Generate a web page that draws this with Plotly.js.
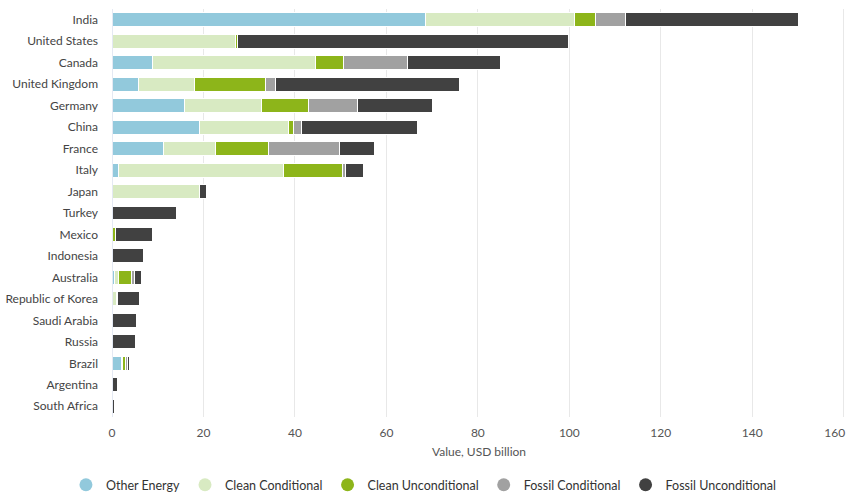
<!DOCTYPE html>
<html>
<head>
<meta charset="utf-8">
<script src="https://cdn.plot.ly/plotly-3.0.1.min.js"></script>
<style>html,body{margin:0;padding:0;background:#fff;}#chart{width:846px;height:492px;}</style>
</head>
<body>
<div id="chart"></div>
<script>
const countries = ["India","United States","Canada","United Kingdom","Germany","China","France","Italy","Japan","Turkey","Mexico","Indonesia","Australia","Republic of Korea","Saudi Arabia","Russia","Brazil","Argentina","South Africa"];
const otherEnergy        = [68.6, 0,    8.8, 5.8, 15.9, 19.1, 11.3, 1.5, 0,    0,    0,   0,   0.45, 0,   0,   0,   2.1, 0,   0];
const cleanConditional   = [32.6, 26.9, 35.6, 12.3, 16.8, 19.4, 11.3, 35.9, 19.1, 0,   0,   0,   1.0, 0.9, 0,   0,   0.3, 0,   0];
const cleanUnconditional = [4.6,  0.5,  6.3, 15.5, 10.2, 1.1, 11.7, 13.1, 0,    0,    0.8, 0,   2.8, 0.3, 0,   0,   0.5, 0,   0];
const fossilConditional  = [6.4,  0,    13.9, 2.2, 10.7, 1.9, 15.5, 0.6, 0,    0,    0,   0,   0.7, 0,   0,   0,   0.4, 0,   0];
const fossilUnconditional= [38.0, 72.4, 20.3, 40.2, 16.4, 25.2, 7.6, 3.8, 1.5, 14.0, 8.0, 6.8, 1.55, 4.85, 5.3, 5.1, 0.5, 1.2, 0.55];
const xTicks = [0,20,40,60,80,100,120,140,160];
const xTickLabels = ["0","20","40","60","80","100","120","140","160"];

const seriesNames = ["Other Energy","Clean Conditional","Clean Unconditional","Fossil Conditional","Fossil Unconditional"];
const seriesValues = [otherEnergy, cleanConditional, cleanUnconditional, fossilConditional, fossilUnconditional];
const colors = ["#92c9dc","#d8eac2","#8db51a","#a1a1a1","#414141"];

const traces = [];
seriesNames.forEach((n,i)=>{
  traces.push({
    type:'bar', orientation:'h', name:n, x:seriesValues[i], y:countries,
    marker:{color:colors[i], line:{color:'#ffffff', width:1}},
    showlegend:false, hoverinfo:'x+y+name'
  });
});
seriesNames.forEach((n,i)=>{
  traces.push({
    type:'scatter', mode:'markers', name:n, x:[null], y:[null],
    marker:{color:colors[i], symbol:'circle', size:13}, showlegend:true, hoverinfo:'skip'
  });
});
// carrier trace so the overlay axis (edge tick label) is drawn
traces.push({type:'scatter', mode:'markers', x:[null], y:[null], xaxis:'x2', yaxis:'y', showlegend:false, hoverinfo:'skip'});

const lastIdx = xTicks.length - 1;
const xRange = [0,160.5];
const tickFont = {size:12, color:'#555'};

const layout = {
  width:846, height:492,
  margin:{l:112, r:0, t:9, b:75, autoexpand:false},
  barmode:'stack', bargap:0.35,
  paper_bgcolor:'#fff', plot_bgcolor:'#fff',
  font:{family:'Lato, "Open Sans", sans-serif', size:12, color:'#555'},
  xaxis:{
    range:xRange, tickvals:xTicks, ticktext:xTickLabels.map((t,i)=> i===lastIdx ? '' : t),
    showgrid:true, gridcolor:'#e8e8e8', gridwidth:1, zeroline:false,
    showline:false, ticks:'', tickfont:tickFont, ticklabelstandoff:7,
    title:{text:'Value, USD billion', font:{size:12, color:'#555'}, standoff:8},
    fixedrange:true, automargin:false
  },
  xaxis2:{
    overlaying:'x', anchor:'y', side:'bottom', range:xRange,
    tickvals:[xTicks[lastIdx]], ticktext:[xTickLabels[lastIdx]],
    showgrid:false, zeroline:false, showline:false, ticks:'', tickfont:tickFont,
    ticklabelstandoff:7, ticklabelshift:-9, fixedrange:true, automargin:false
  },
  yaxis:{
    type:'category', categoryorder:'array', categoryarray:countries, autorange:'reversed',
    showgrid:false, zeroline:false, showline:false, ticks:'',
    tickfont:{size:12, color:'#444'}, ticklabelstandoff:13, fixedrange:true, automargin:false
  },
  shapes:[{type:'line', xref:'x', yref:'paper', x0:0, x1:0, y0:0, y1:1, line:{color:'#c9d3e8', width:1}}],
  legend:{orientation:'h', x:0.425, xanchor:'center', y:-0.167, yanchor:'middle',
    font:{size:12.5, color:'#333'}, traceorder:'normal'},
  showlegend:true
};
Plotly.newPlot('chart', traces, layout, {displayModeBar:false, staticPlot:true});
</script>
</body>
</html>
